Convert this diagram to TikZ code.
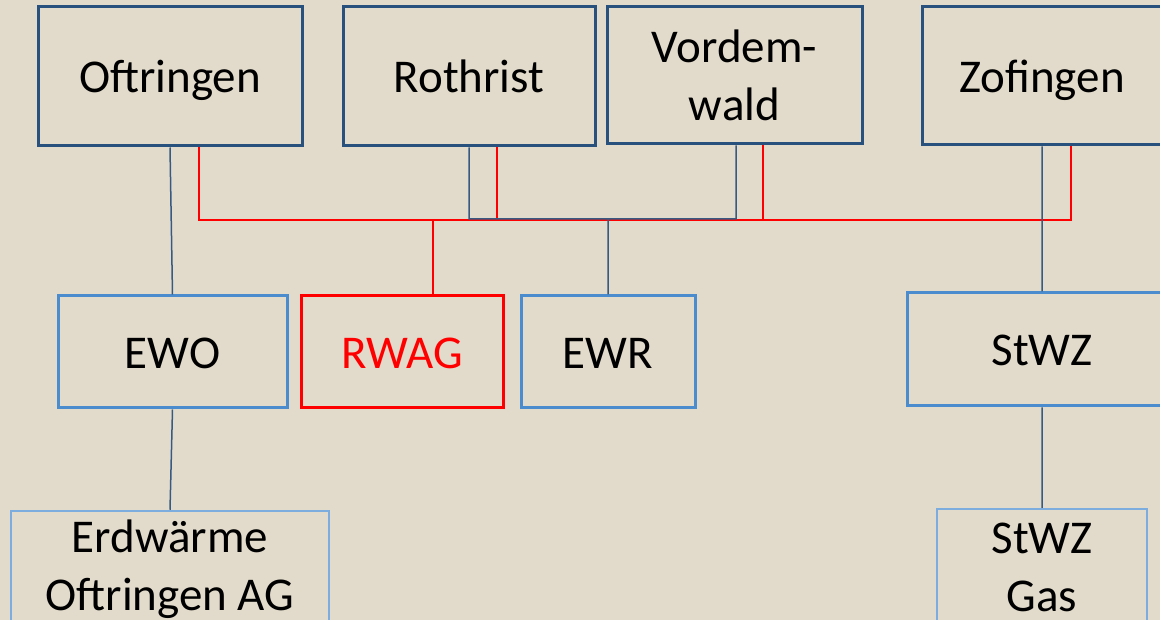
\documentclass[tikz,border=0pt]{standalone}
\usepackage{fontspec}
\setmainfont{Carlito}
\usepackage{tikz}
\usetikzlibrary{positioning, calc}
\definecolor{bgbeige}{RGB}{226,219,203}
\definecolor{darkblue}{RGB}{40,82,125}
\definecolor{midblue}{RGB}{74,140,205}
\definecolor{lightblue}{RGB}{125,172,222}
\definecolor{linkblue}{RGB}{55,90,130}
\tikzstyle{gemeinde}=[draw=darkblue,line width=3pt,align=center,inner sep=0pt,
font=\fontsize{47}{58}\selectfont]
\tikzstyle{werk}=[draw=midblue,line width=3pt,align=center,inner sep=0pt,
minimum height=112pt,font=\fontsize{47}{58}\selectfont]
\tikzstyle{tochter}=[draw=lightblue,line width=2.5pt,align=center,inner sep=0pt,
minimum height=116pt,font=\fontsize{47}{58}\selectfont]
\tikzstyle{oneline}=[text height=33pt,text depth=0pt]
\tikzstyle{bluelink} = [draw=linkblue,line width=1.5pt]
\tikzstyle{redlink} = [draw=red,line width=1.5pt]

\begin{document}
\begin{tikzpicture}[x=1pt,y=-1pt]
        \fill[bgbeige] (0,0) rectangle (1160,620);
        \useasboundingbox (0,0) rectangle (1160,620);
        
        % Gemeinden
        \node[gemeinde, oneline, minimum width=264pt, minimum height=139pt] (oft) at (170,76.5) {Oftringen};
        \node[gemeinde, oneline, minimum width=252pt, minimum height=139pt] (roth) at (469,76.5) {Rothrist};
        \node[gemeinde, minimum width=255pt, minimum height=137pt] (vord) at (734.5,75.5) {Vordem-\\wald};
        \node[gemeinde, oneline, minimum width=240pt, minimum height=138pt] (zof) at (1042,76) {Zofingen};
        
        % Werke
        \node[werk, oneline, minimum width=229pt] (ewo) at (172.5,352) {EWO};
        \node[werk, oneline, draw=red, text=red, minimum width=202pt] (rwag) at (402,352) {RWAG};
        \node[werk, oneline, minimum width=174pt] (ewr) at (608,352) {EWR};
        \node[werk, oneline, minimum width=270pt, minimum height=113pt] (stwz) at (1042,349.5) {StWZ};
        
        % Toechter
        \node[tochter, minimum width=318pt] (erdw) at (170,569) {Erdwärme\\Oftringen AG};
        \node[tochter, minimum width=210pt] (gas) at (1042,567) {StWZ\\Gas};
        
        \coordinate (rbus) at (0,220);
        \coordinate (bbus) at (0,219);
        \coordinate (oftR) at ($(oft.south)+(29,0)$);
        \coordinate (rothR) at ($(roth.south)+(28,0)$);
        \coordinate (vordR) at ($(vord.south)+(28.5,0)$);
        \coordinate (vordB) at ($(vord.south)+(1.5,0)$);
        \coordinate (zofR) at ($(zof.south)+(29,0)$);
        \coordinate (rwagT) at ($(rwag.north)+(31,0)$);
        
        \path[redlink]
            (oftR) -- (oftR |- rbus) -| (zofR)
            (rothR) -- (rothR |- rbus)
            (vordR) -- (vordR |- rbus);
        \path[redlink, line width=2.5pt]
            (rwagT |- rbus) -- (rwagT);
        
        \path[bluelink]
            (oft.south) -- (ewo.north)
            (roth.south) -- (roth.south |- bbus) -| (vordB)
            (ewr.north |- bbus) -- (ewr.north)
            (zof.south) -- (stwz.north)
            (ewo.south) -- (erdw.north)
            (stwz.south) -- (gas.north);
    \end{tikzpicture}
\end{document}
